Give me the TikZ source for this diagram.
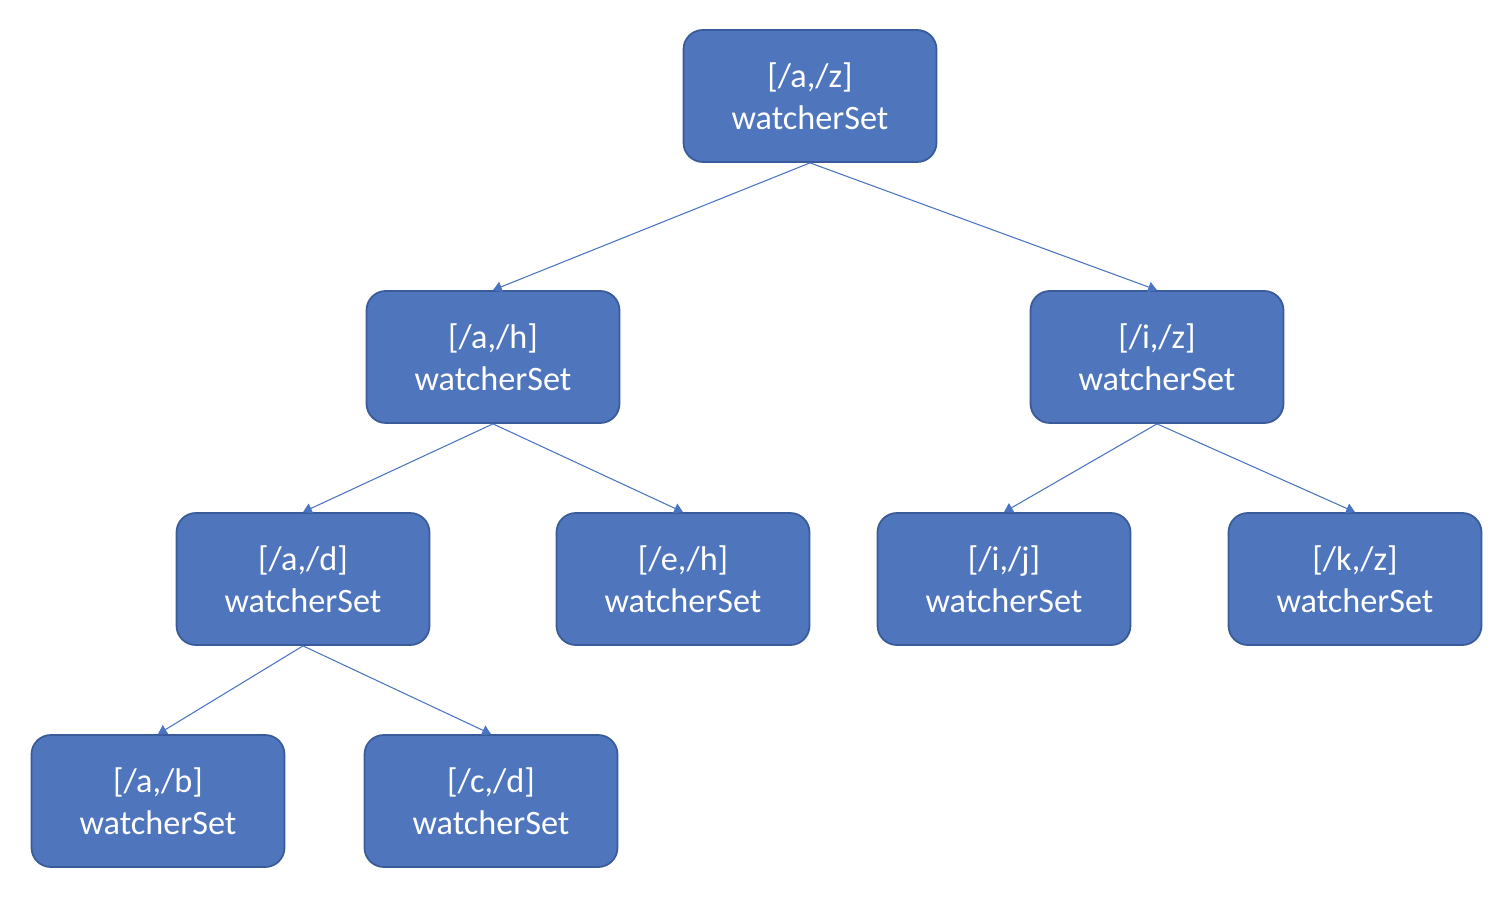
\documentclass[tikz,border=0pt]{standalone}
\usepackage{fontspec}
\setmainfont{Carlito}
\usetikzlibrary{arrows.meta}

\definecolor{boxfill}{HTML}{4F75BD}
\definecolor{boxline}{HTML}{3A5B99}
\definecolor{edgeblue}{HTML}{4A73C2}

\tikzset{
    wset/.style={draw=boxline, fill=boxfill, line width=1pt, rounded corners=11pt,
        minimum width=253*0.02cm, minimum height=132*0.02cm, text=white, align=center,
        font=\fontsize{19.5}{24}\selectfont},
    link/.style={-{Triangle[length=5pt,width=6pt]}, draw=edgeblue, line width=0.6pt}
}

\begin{document}
\begin{tikzpicture}[x=0.02cm,y=-0.02cm]
    \useasboundingbox (0,0) rectangle (1500,908);

    \node[wset](az) at (810,96){[/a,/z]\\watcherSet};

    \node[wset](ah) at (493,357){[/a,/h]\\watcherSet};
    \node[wset](iz) at (1157,357){[/i,/z]\\watcherSet};

    \node[wset](ad) at (303,579){[/a,/d]\\watcherSet};
    \node[wset](eh) at (683,579){[/e,/h]\\watcherSet};
    \node[wset](ij) at (1004,579){[/i,/j]\\watcherSet};
    \node[wset](kz) at (1355,579){[/k,/z]\\watcherSet};

    \node[wset](ab) at (158,801){[/a,/b]\\watcherSet};
    \node[wset](cd) at (491,801){[/c,/d]\\watcherSet};

    \draw[link](az.south)--(ah.north);
    \draw[link](az.south)--(iz.north);
    \draw[link](ah.south)--(ad.north);
    \draw[link](ah.south)--(eh.north);
    \draw[link](iz.south)--(ij.north);
    \draw[link](iz.south)--(kz.north);
    \draw[link](ad.south)--(ab.north);
    \draw[link](ad.south)--(cd.north);
\end{tikzpicture}
\end{document}
